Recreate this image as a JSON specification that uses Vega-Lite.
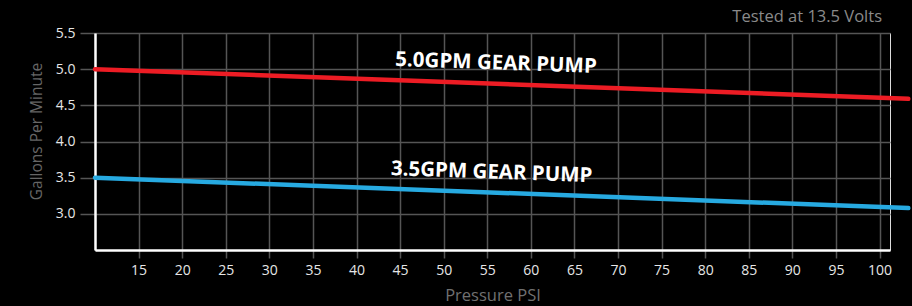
{
  "$schema": "https://vega.github.io/schema/vega-lite/v6.json",
  "autosize": "none",
  "width": 795,
  "height": 217,
  "padding": {"left": 95, "top": 33, "right": 22, "bottom": 56},
  "background": "#000000",
  "title": {
    "text": "Tested at 13.5 Volts",
    "anchor": "end",
    "frame": "group",
    "orient": "top",
    "font": "Open Sans",
    "fontSize": 16.5,
    "fontWeight": "normal",
    "color": "#8a8a8a",
    "offset": 1,
    "dx": -8
  },
  "datasets": {
    "lines": [
      {"psi": 10, "gpm": 5.0, "pump": "5.0GPM"},
      {"psi": 103.3, "gpm": 4.59, "pump": "5.0GPM"},
      {"psi": 10, "gpm": 3.5, "pump": "3.5GPM"},
      {"psi": 103.3, "gpm": 3.08, "pump": "3.5GPM"}
    ],
    "labels": [
      {"psi": 56, "gpm": 5.08, "label": "5.0GPM GEAR PUMP"},
      {"psi": 55.5, "gpm": 3.57, "label": "3.5GPM GEAR PUMP"}
    ]
  },
  "encoding": {
    "x": {
      "field": "psi",
      "type": "quantitative",
      "scale": {"domain": [10, 101.2], "nice": false, "zero": false},
      "axis": {
        "title": "Pressure PSI",
        "values": [15, 20, 25, 30, 35, 40, 45, 50, 55, 60, 65, 70, 75, 80, 85, 90, 95, 100],
        "grid": true,
        "gridColor": "#555555",
        "gridWidth": 1.5,
        "domainColor": "#ffffff",
        "domainWidth": 2.5,
        "tickColor": "#555555",
        "tickWidth": 1.5,
        "tickSize": 8,
        "labelPadding": 5,
        "labelColor": "#e6e6e6",
        "labelFont": "Open Sans",
        "labelFontSize": 14,
        "titleColor": "#707070",
        "titleFont": "Open Sans",
        "titleFontSize": 16.5,
        "titleFontWeight": "normal",
        "titleBaseline": "middle",
        "titleY": 45
      }
    },
    "y": {
      "field": "gpm",
      "type": "quantitative",
      "scale": {"domain": [2.5, 5.5], "nice": false, "zero": false},
      "axis": {
        "title": "Gallons Per Minute",
        "values": [3.0, 3.5, 4.0, 4.5, 5.0, 5.5],
        "format": ".1f",
        "grid": true,
        "gridColor": "#555555",
        "gridWidth": 1.5,
        "domainColor": "#ffffff",
        "domainWidth": 2.5,
        "tickColor": "#555555",
        "tickWidth": 1.5,
        "tickSize": 15,
        "labelPadding": 5,
        "labelColor": "#e6e6e6",
        "labelFont": "Open Sans",
        "labelFontSize": 14,
        "titleColor": "#666666",
        "titleFont": "Open Sans",
        "titleFontSize": 15.5,
        "titleFontWeight": "normal",
        "titleBaseline": "middle",
        "titleX": -59,
        "titleY": 98
      }
    }
  },
  "layer": [
    {
      "data": {"name": "lines"},
      "mark": {"type": "line", "strokeWidth": 4.5, "strokeCap": "round"},
      "encoding": {
        "color": {
          "field": "pump",
          "type": "nominal",
          "scale": {"domain": ["5.0GPM", "3.5GPM"], "range": ["#ed1c24", "#27aae1"]},
          "legend": null
        }
      }
    },
    {
      "data": {"name": "labels"},
      "mark": {
        "type": "text",
        "font": "Open Sans",
        "fontSize": 20.5,
        "fontWeight": "bold",
        "color": "#ffffff",
        "angle": 2,
        "align": "center",
        "baseline": "middle"
      },
      "encoding": {
        "text": {"field": "label", "type": "nominal"}
      }
    }
  ]
}
